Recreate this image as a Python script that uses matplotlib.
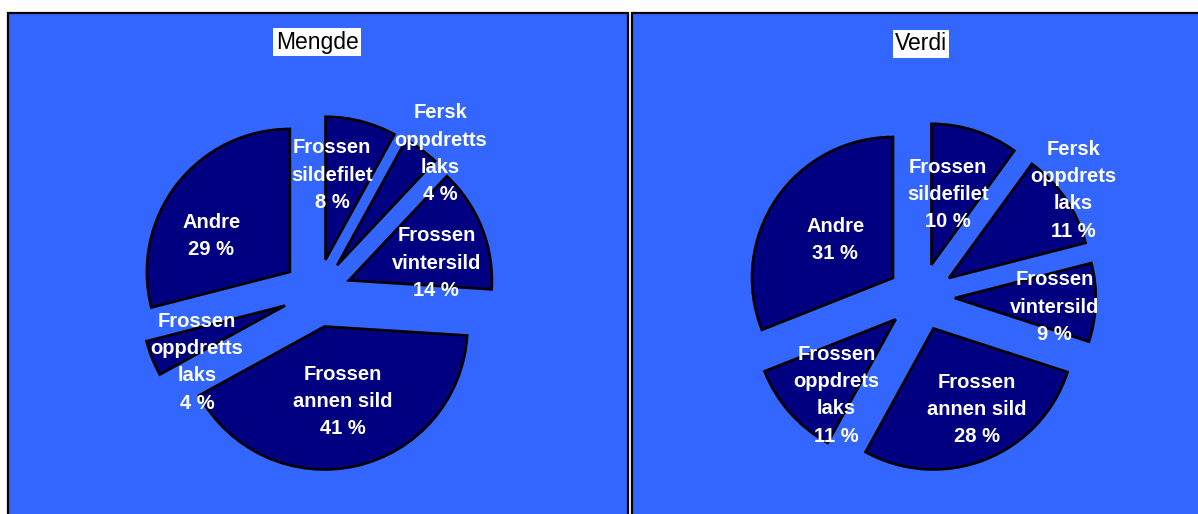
import numpy as np
import matplotlib
matplotlib.use("Agg")
import matplotlib.pyplot as plt
from matplotlib.patches import Rectangle

plt.rcParams['font.family'] = ['Liberation Sans', 'DejaVu Sans']

# andeler, med klokka fra toppen
kategorier_mengde = ['Frossen\nsildefilet', 'Fersk\noppdretts\nlaks', 'Frossen\nvintersild',
                     'Frossen\nannen sild', 'Frossen\noppdretts\nlaks', 'Andre']
mengde = [8, 4, 14, 41, 4, 29]

kategorier_verdi = ['Frossen\nsildefilet', 'Fersk\noppdrets\nlaks', 'Frossen\nvintersild',
                    'Frossen\nannen sild', 'Frossen\noppdrets\nlaks', 'Andre']
verdi = [10, 11, 9, 28, 11, 31]

BLA = '#3366ff'
MORK = '#000080'

W, H = 1198, 514
fig = plt.figure(figsize=(W / 100, H / 100), dpi=100)

# bakgrunnsrammer, bak kakene
for x0, x1 in [(8, 628), (632, 1210)]:
    fig.add_artist(Rectangle((x0 / W, -0.05), (x1 - x0) / W, (H - 13) / H + 0.05,
                             transform=fig.transFigure, facecolor=BLA,
                             edgecolor='black', linewidth=1.6, zorder=-5))


def kake(cx, cy, r, verdier, navn, tittel, ty, lab_r, lab_da):
    L = 1.7
    ax = fig.add_axes([(cx - L * r) / W, (H - cy - L * r) / H, 2 * L * r / W, 2 * L * r / H])
    ax.set_zorder(2)
    wedges, _ = ax.pie(verdier, startangle=90, counterclock=False,
                       explode=[0.24] * len(verdier), colors=[MORK] * len(verdier),
                       wedgeprops=dict(edgecolor='black', linewidth=1.9))
    ax.set_xlim(-L, L)
    ax.set_ylim(-L, L)
    ax.axis('off')
    for i, w in enumerate(wedges):
        a = np.deg2rad((w.theta1 + w.theta2) / 2 + lab_da[i])
        ax.text(lab_r[i] * np.cos(a), lab_r[i] * np.sin(a),
                f"{navn[i]}\n{verdier[i]} %", ha='center', va='center',
                color='white', fontweight='bold', fontsize=14.5, linespacing=1.55)
    fig.text(cx / W, 1 - ty / H, tittel, ha='center', va='center', fontsize=16.5,
             color='black', zorder=3,
             bbox=dict(boxstyle='square,pad=0.1', facecolor='white', edgecolor='none'))


kake(317, 293, 143, mengde, kategorier_mengde, 'Mengde', 42,
     [0.83, 1.30, 0.86, 0.78, 0.97, 0.84], [7.2, -5.5, -7.6, 0.8, 8.4, 9.3])
kake(921, 297, 141, verdi, kategorier_verdi, 'Verdi', 44,
     [0.75, 1.32, 0.95, 0.89, 0.92, 0.73], [3.3, 0.8, -2.5, 4.8, 7.9, 0.7])

fig.savefig('out.png', dpi=100, facecolor='white')
